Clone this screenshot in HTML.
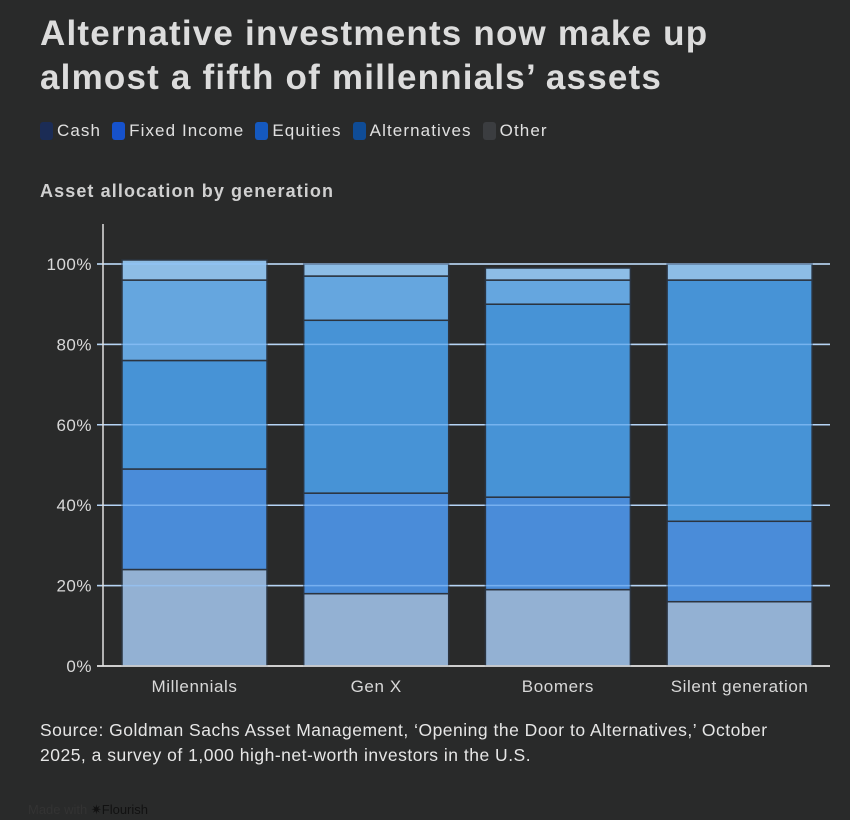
<!DOCTYPE html>
<html><head><meta charset="utf-8"><style>
body{margin:0;background:#292a2a;width:850px;height:820px;overflow:hidden;font-family:"Liberation Sans",sans-serif;color:#e6e6e6}
h1{position:absolute;left:40px;top:12px;margin:0;font-size:35px;line-height:44px;font-weight:bold;color:#dcdcdc;letter-spacing:1.2px;white-space:nowrap}
.legend{position:absolute;left:40px;top:121px;font-size:17px;color:#e0e0e0;display:flex;gap:11px;letter-spacing:1.1px}
.legend span{display:flex;align-items:center}
.legend i{display:inline-block;width:13px;height:18px;border-radius:3px;margin-right:4px}
.sub{position:absolute;left:40px;top:181px;font-size:18px;font-weight:bold;color:#d0d0d0;letter-spacing:1.1px}
.src{position:absolute;left:40px;top:718px;font-size:17.5px;line-height:25px;color:#e6e6e6;width:765px;letter-spacing:0.5px}
.made{position:absolute;left:28px;top:802px;font-size:13px;color:#333}
.made b{color:#111;font-weight:normal}
</style></head><body>
<h1>Alternative investments now make up<br>almost a fifth of millennials’ assets</h1>
<div class="legend">
<span><i style="background:#1b2c55"></i>Cash</span>
<span><i style="background:#1652cc"></i>Fixed Income</span>
<span><i style="background:#1559bf"></i>Equities</span>
<span><i style="background:#0f4c96"></i>Alternatives</span>
<span><i style="background:#3b3d40"></i>Other</span>
</div>
<div class="sub">Asset allocation by generation</div>
<svg id="c" width="850" height="820" style="position:absolute;left:0;top:0"></svg>
<div class="src">Source: Goldman Sachs Asset Management, ‘Opening the Door to Alternatives,’ October 2025, a survey of 1,000 high-net-worth investors in the U.S.</div>
<div class="made">Made with <b>✷Flourish</b></div>
<script>
const categories=["Millennials","Gen X","Boomers","Silent generation"];
const cash=[24,18,19,16];
const fixedIncome=[25,25,23,20];
const equities=[27,43,48,60];
const alternatives=[20,11,6,0];
const other=[5,3,3,4];
const ticks=[0,20,40,60,80,100];
const series=[["cash",cash,"#93b1d3"],["fixed-income",fixedIncome,"#4a8cd9"],["equities",equities,"#4793d6"],["alternatives",alternatives,"#65a6df"],["other",other,"#8dbde6"]];
const NS="http://www.w3.org/2000/svg",svg=document.getElementById('c');
const y=v=>666-v*4.02, x0=122, step=181.7, bw=145;
function mk(t,a,p){const e=document.createElementNS(NS,t);for(const k in a)e.setAttribute(k,a[k]);(p||svg).appendChild(e);return e;}
ticks.forEach(v=>{
  const bg=mk('line',{x1:97,x2:830,y1:y(v),y2:y(v),stroke:'#e6e6e6','stroke-width':1.5});
  
  
});
categories.forEach((c,i)=>{
  let acc=0;const x=x0+i*step;
  series.forEach(([n,arr,col])=>{
    const v=arr[i];if(v<=0)return;
    const r=mk('rect',{x:x,y:y(acc+v),width:bw,height:v*4.02,fill:col,stroke:'#2b3440','stroke-width':1.5});
    
    
    acc+=v;
  });
  const t=mk('text',{x:x+bw/2,y:692,'text-anchor':'middle','font-size':17,fill:'#d8d8d8','letter-spacing':0.6});
  t.textContent=c;
  
  
});
ticks.forEach(v=>{
  if(v>0){
  const l=mk('line',{x1:97,x2:830,y1:y(v),y2:y(v),stroke:'rgba(150,200,255,0.6)','stroke-width':1.5});
  
  
  }
  const t=mk('text',{x:92,y:y(v)+6,'text-anchor':'end','font-size':17,fill:'#d8d8d8','letter-spacing':0.5});
  t.textContent=v+'%';
  
  
});
const base=mk('line',{x1:97,x2:830,y1:y(0),y2:y(0),stroke:'#e6e6e6','stroke-width':1.5});


const ax=mk('line',{x1:103,x2:103,y1:224,y2:666,stroke:'#e0e0e0','stroke-width':1.5});


</script>
</body></html>
